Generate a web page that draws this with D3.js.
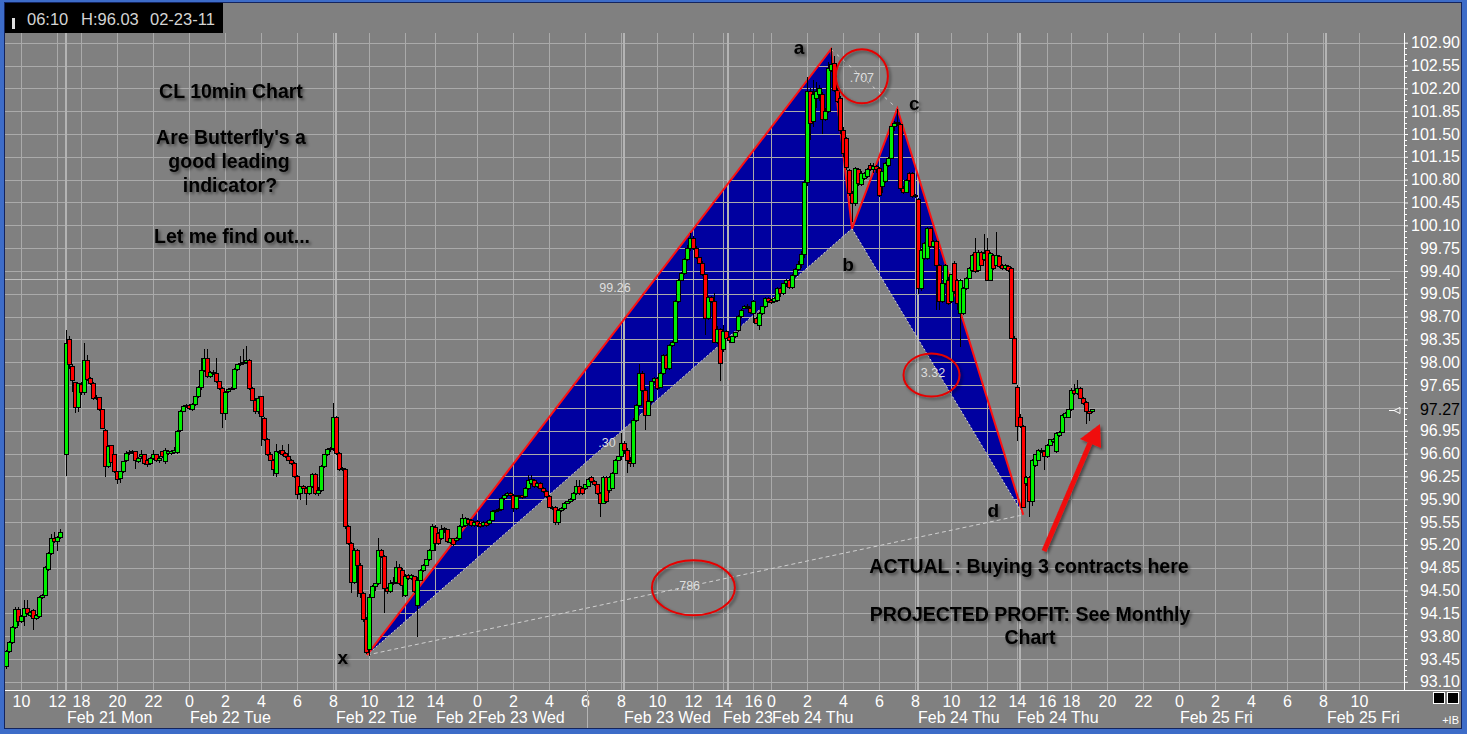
<!DOCTYPE html>
<html><head><meta charset="utf-8">
<script src="https://cdn.jsdelivr.net/npm/d3@7"></script>
<style>
html,body{margin:0;padding:0;background:#808080;overflow:hidden}
svg{display:block}
text{font-family:"Liberation Sans",Arial,sans-serif}
</style></head><body>
<svg id="c" width="1467" height="734"></svg>
<script>
// ---------- DATA ----------
// 10-minute OHLC bars [open, high, low, close], indexed by bar position
const segStart = [0, 20, 114, 205, 258];
const barsFeb21a = [
[93.34,93.58,93.30,93.56],[93.56,93.72,93.54,93.70],[93.70,93.95,93.68,93.93],[93.93,94.25,93.91,94.21],
[94.21,94.25,93.96,94.02],[94.03,94.12,94.00,94.10],[94.10,94.36,93.95,94.22],[94.22,94.36,94.13,94.15],
[94.12,94.19,94.10,94.17],[94.19,94.21,93.90,94.07],[94.07,94.14,94.05,94.12],[94.10,94.41,94.08,94.39],
[94.39,94.45,94.37,94.43],[94.43,94.87,94.41,94.85],[94.82,95.09,94.80,95.07],[95.07,95.37,95.05,95.30],
[95.30,95.40,95.23,95.25],[95.25,95.33,95.10,95.31],[95.31,95.45,95.29,95.39]];
const barsFeb21b = [
[96.59,98.49,96.25,98.28],[98.35,98.40,97.90,97.97],[97.94,97.98,97.55,97.72],[97.69,97.70,97.22,97.31],
[97.31,97.68,97.24,97.67],[97.66,97.70,97.50,97.53],[97.53,98.30,97.50,98.02],[98.02,98.11,97.72,97.74],
[97.75,97.77,97.65,97.68],[97.68,97.70,97.42,97.45],[97.44,97.50,97.42,97.46],[97.46,97.47,97.25,97.28],
[97.28,97.29,96.97,96.99],[96.95,96.97,96.24,96.40],[96.40,96.73,96.38,96.71],[96.72,96.73,96.45,96.46],
[96.59,96.60,96.30,96.32],[96.32,96.33,96.14,96.20],[96.22,96.33,96.15,96.32],[96.32,96.49,96.30,96.48],
[96.49,96.64,96.47,96.60],[96.60,96.65,96.58,96.62],[96.62,96.66,96.59,96.63],[96.63,96.64,96.37,96.50],
[96.48,96.55,96.46,96.53],[96.55,96.65,96.52,96.58],[96.58,96.60,96.42,96.44],[96.50,96.52,96.40,96.43],
[96.44,96.54,96.42,96.52],[96.52,96.65,96.50,96.58],[96.58,96.60,96.47,96.49],[96.49,96.56,96.45,96.53],
[96.63,96.64,96.53,96.55],[96.48,96.68,96.44,96.64],[96.60,96.66,96.58,96.63],[96.60,96.65,96.58,96.63],
[96.62,96.70,96.60,96.64],[96.62,96.96,96.60,96.94],[96.95,97.27,96.93,97.25],[97.25,97.34,97.23,97.32],
[97.33,97.36,97.30,97.34],[97.34,97.36,97.27,97.29],[97.28,97.37,97.26,97.35],[97.35,97.49,97.33,97.47],
[97.47,97.63,97.45,97.61],[97.61,98.06,97.58,97.88],[97.88,98.21,97.85,98.06],[98.06,98.20,97.76,97.78],
[97.78,97.87,97.76,97.85],[97.85,97.88,97.81,97.83],[97.83,98.06,97.68,97.70],[97.70,97.72,97.58,97.60],
[97.60,97.62,96.99,97.22],[97.22,97.56,97.12,97.54],[97.55,97.60,97.53,97.58],[97.59,97.62,97.57,97.60],
[97.60,97.91,97.58,97.89],[97.89,97.98,97.87,97.96],[97.96,98.09,97.94,97.98],[97.98,98.21,97.96,98.00],
[98.00,98.25,97.98,98.02],[98.02,98.05,97.57,97.59],[97.59,97.62,97.40,97.42],[97.42,97.45,97.20,97.24],
[97.24,97.48,97.20,97.45],[97.47,97.49,96.72,97.17],[97.14,97.16,96.80,96.82],[96.82,96.84,96.57,96.59],
[96.59,96.62,96.48,96.50],[96.50,96.52,96.25,96.35],[96.30,96.75,96.24,96.63],[96.63,96.66,96.60,96.63],
[96.64,96.73,96.57,96.58],[96.60,96.62,96.53,96.55],[96.56,96.75,96.48,96.50],[96.50,96.52,96.43,96.45],
[96.45,96.47,96.23,96.25],[96.25,96.27,95.91,95.97],[95.99,96.11,95.89,96.09],[96.10,96.12,96.05,96.07],
[96.07,96.09,95.81,95.98],[95.98,96.11,95.96,96.09],[96.09,96.30,96.07,96.28],[96.28,96.30,95.97,95.99],
[95.99,96.08,95.95,96.03],[96.03,96.42,96.01,96.40],[96.40,96.60,96.38,96.58],[96.58,96.68,96.56,96.66],
[96.66,96.70,96.62,96.68],[96.68,97.37,96.64,97.16],[97.15,97.17,96.58,96.60],[96.60,96.62,96.33,96.35],
[96.35,96.40,96.33,96.37],[96.36,96.38,95.45,95.48]];
const barsFeb22 = [
[95.48,95.50,95.20,95.22],[95.22,95.25,94.46,94.63],[94.63,95.15,94.60,95.12],[95.12,95.14,94.40,94.89],
[94.89,94.92,94.38,94.45],[94.45,94.48,94.02,94.05],[94.05,94.10,93.52,93.55],[93.60,94.45,93.50,94.40],
[94.40,94.58,94.38,94.56],[94.56,94.62,94.50,94.60],[94.60,95.30,94.58,95.11],[95.11,95.14,95.00,95.02],
[95.02,95.04,94.15,94.53],[94.53,94.56,94.45,94.48],[94.48,94.66,94.46,94.61],[94.61,94.70,94.59,94.63],
[94.63,94.95,94.60,94.86],[94.86,94.90,94.58,94.61],[94.81,94.84,94.40,94.58],[94.43,94.75,94.40,94.71],
[94.73,94.76,94.66,94.68],[94.68,94.76,94.66,94.73],[94.71,94.73,94.46,94.48],[94.27,94.70,93.79,94.66],
[94.66,94.83,94.64,94.81],[94.81,94.91,94.79,94.89],[94.89,94.99,94.87,94.97],[94.97,95.14,94.95,95.12],
[95.12,95.52,95.10,95.48],[95.46,95.50,95.10,95.22],[95.37,95.40,95.20,95.22],[95.30,95.50,95.28,95.43],
[95.43,95.47,95.38,95.45],[95.43,95.45,95.23,95.25],[95.24,95.31,95.22,95.29],[95.29,95.31,95.18,95.20],
[95.27,95.32,95.25,95.30],[95.30,95.50,95.28,95.48],[95.48,95.68,95.46,95.60],[95.50,95.62,95.48,95.60],
[95.59,95.61,95.50,95.52],[95.58,95.60,95.48,95.50],[95.50,95.57,95.48,95.55],[95.56,95.58,95.48,95.50],
[95.52,95.54,95.46,95.48],[95.50,95.57,95.48,95.55],[95.54,95.56,95.48,95.50],[95.52,95.60,95.50,95.58],
[95.58,95.73,95.56,95.71],[95.71,95.74,95.69,95.72],[95.72,95.76,95.70,95.74],[95.74,95.93,95.72,95.91],
[95.91,95.98,95.89,95.96],[95.96,96.01,95.94,95.99],[95.99,96.01,95.94,95.96],[95.96,95.98,95.70,95.76],
[95.76,95.96,95.74,95.94],[95.94,95.97,95.92,95.95],[95.95,95.97,95.90,95.92],[95.94,96.08,95.92,96.06],
[96.06,96.27,96.04,96.19],[96.14,96.27,96.12,96.20],[96.19,96.21,96.07,96.09],[96.09,96.16,96.07,96.14],
[96.14,96.16,96.05,96.07],[96.07,96.09,96.00,96.02],[96.02,96.04,95.92,95.94],[95.94,95.96,95.76,95.78],
[95.78,95.80,95.74,95.76],[95.78,95.80,95.50,95.55],[95.55,95.75,95.50,95.73],[95.73,95.78,95.71,95.76],
[95.76,95.86,95.74,95.84],[95.84,95.88,95.82,95.86],[95.86,95.92,95.84,95.90],[95.90,96.01,95.88,95.99],
[95.99,96.20,95.97,96.09],[96.09,96.20,95.97,95.99],[96.06,96.08,95.97,95.99],[96.06,96.14,96.04,96.12],
[96.10,96.22,96.08,96.20],[96.23,96.25,96.15,96.17],[96.17,96.19,96.10,96.12],[96.12,96.14,95.97,95.99],
[95.99,96.01,95.63,95.84],[95.84,96.26,95.82,96.24],[96.23,96.25,95.84,95.86],[96.04,96.26,96.00,96.24],
[96.07,96.32,96.05,96.30],[96.30,96.52,96.28,96.50],[96.50,96.57,96.48,96.55]];
const barsFeb23 = [
[96.55,96.91,96.50,96.76],[96.76,96.80,96.60,96.65],[96.65,96.68,96.30,96.50],[96.48,96.55,96.40,96.45],
[96.45,97.15,96.40,97.11],[97.11,97.36,97.09,97.34],[97.34,97.98,97.32,97.83],[97.83,97.86,97.55,97.57],
[97.57,97.60,96.96,97.19],[97.19,97.42,97.17,97.40],[97.40,97.72,97.38,97.70],[97.70,97.78,97.68,97.75],
[97.75,97.77,97.58,97.60],[97.62,97.85,97.60,97.83],[97.83,98.13,97.81,98.11],[98.11,98.13,97.88,97.90],
[97.90,98.28,97.88,98.26],[98.26,98.33,98.24,98.31],[98.31,98.95,98.29,98.93],[98.93,99.28,98.91,99.26],
[99.26,99.38,99.24,99.36],[99.36,99.60,99.34,99.57],[99.57,99.80,99.55,99.75],[99.75,99.98,99.70,99.90],
[99.90,99.93,99.72,99.75],[99.75,99.78,99.58,99.60],[99.60,99.62,99.50,99.52],[99.52,99.55,99.32,99.34],
[99.34,99.36,98.42,98.67],[98.67,99.02,98.65,99.00],[99.00,99.02,98.91,98.93],[98.93,99.06,98.29,98.31],
[98.31,98.55,98.28,98.50],[98.50,98.52,97.72,97.98],[98.19,98.57,98.15,98.47],[98.47,98.50,98.35,98.37],
[98.38,98.40,98.30,98.34],[98.31,98.41,98.29,98.39],[98.39,98.47,98.37,98.45],[98.48,98.72,98.46,98.70],
[98.70,98.82,98.68,98.80],[98.83,98.88,98.81,98.86],[98.86,98.90,98.82,98.84],[98.83,98.85,98.74,98.76],
[98.75,98.95,98.60,98.93],[98.67,98.70,98.58,98.60],[98.57,98.77,98.50,98.75],[98.75,98.87,98.73,98.85],
[98.85,99.00,98.83,98.98],[98.98,99.00,98.91,98.93],[98.95,98.97,98.89,98.91],[98.93,99.00,98.91,98.98],
[98.95,99.15,98.93,99.13]];
const barsFeb24 = [
[99.13,99.16,99.00,99.05],[99.05,99.22,99.03,99.20],[99.20,99.28,99.15,99.25],[99.25,99.27,99.12,99.15],
[99.15,99.35,99.13,99.33],[99.33,99.45,99.30,99.42],[99.42,99.55,99.40,99.50],[99.50,99.70,99.45,99.65],
[99.65,100.80,99.60,100.75],[100.75,102.38,100.70,102.15],[102.15,102.20,101.41,101.66],[101.69,102.33,101.60,102.10],
[102.05,102.30,101.90,102.15],[102.10,102.25,102.00,102.20],[102.10,102.15,101.50,101.72],[101.72,101.90,101.70,101.84],
[101.84,102.60,101.82,102.51],[102.48,102.82,102.45,102.56],[102.58,102.70,102.15,102.17],[102.17,102.20,101.98,102.00],
[102.05,102.08,101.50,101.56],[101.56,101.60,101.15,101.20],[101.43,101.46,100.95,100.99],[100.94,100.97,100.55,100.59],
[100.59,100.62,100.15,100.43],[100.43,101.00,100.40,100.97],[100.95,100.98,100.70,100.74],[100.72,100.93,100.70,100.90],
[100.82,100.92,100.80,100.90],[100.85,100.98,100.83,100.95],[101.02,101.05,100.93,100.95],[100.95,101.05,100.90,101.00],
[101.00,101.03,100.90,100.95],[100.97,101.00,100.54,100.56],[100.69,100.94,100.60,100.92],[100.77,101.07,100.75,101.05],
[101.02,101.14,101.00,101.12],[101.13,101.63,101.11,101.61],[101.61,101.70,101.55,101.66],[101.66,101.89,101.62,101.68],
[101.64,101.67,100.62,100.67],[100.67,100.70,100.58,100.61],[100.61,100.81,100.59,100.79],[100.89,100.91,100.77,100.79],
[100.89,100.92,100.52,100.54],[100.54,100.58,100.52,100.56],[100.49,100.52,99.05,99.13],[99.13,99.74,99.10,99.72],
[99.59,99.84,99.57,99.82],[99.59,100.07,99.57,100.05],[100.05,100.08,99.75,99.77],[99.77,99.87,99.75,99.85],
[99.85,99.87,98.80,99.49],[99.49,99.51,98.80,98.93],[98.93,99.22,98.91,99.20],[99.20,99.51,99.18,99.49],
[99.26,99.30,98.88,98.90],[98.93,99.36,98.91,99.34],[99.52,99.55,99.05,99.08],[99.26,99.28,98.80,98.90],
[98.75,99.28,98.24,99.26],[98.75,99.15,98.73,99.13],[99.13,99.31,99.11,99.29],[99.29,99.46,99.27,99.44],
[99.41,99.66,99.39,99.64],[99.69,99.90,99.37,99.39],[99.41,99.72,99.39,99.69],[99.68,99.70,99.47,99.49],
[99.57,99.96,99.55,99.67],[99.72,99.90,99.24,99.26],[99.26,99.69,99.24,99.67],[99.64,99.66,99.42,99.44],
[99.49,100.00,99.47,99.64],[99.62,99.65,99.45,99.47],[99.49,99.51,99.42,99.44],[99.44,99.50,99.42,99.48],
[99.47,99.49,99.39,99.41],[99.44,99.46,98.35,98.37],[98.37,98.40,97.66,97.68],[97.62,97.65,96.80,97.01],
[97.16,97.20,96.99,97.01],[97.01,97.04,95.76,95.78],[96.14,96.26,96.10,96.24],[96.24,96.26,95.63,95.86],
[95.86,96.52,95.80,96.50],[96.42,96.60,96.40,96.58],[96.50,96.67,96.48,96.65],[96.63,96.68,96.61,96.65],
[96.63,96.65,96.35,96.55],[96.55,96.75,96.53,96.73],[96.73,96.83,96.71,96.81],[96.78,96.84,96.76,96.82],
[96.63,96.93,96.61,96.91],[96.88,96.95,96.86,96.93],[96.93,97.21,96.91,97.19],[97.16,97.23,97.14,97.21],
[97.16,97.29,97.14,97.27],[97.27,97.60,97.25,97.57],[97.57,97.67,97.50,97.52],[97.52,97.73,97.50,97.60],
[97.60,97.62,97.43,97.45],[97.45,97.47,97.35,97.37],[97.39,97.41,97.05,97.24],[97.24,97.26,97.10,97.22],
[97.24,97.29,97.22,97.27]];
const segments = [barsFeb21a, barsFeb21b, barsFeb22, barsFeb23, barsFeb24];

// X axis: bar index of each hour tick and its label
const tickIdx = [5,17,25,37,49,61,73,85,97,109,121,133,143,157,169,181,193,205,217,229,239,249,255,267,279,291,303,315,327,337,347,355,367,379,391,403,415,427,439,451];
const tickLbl = ["10","12","18","20","22","0","2","4","6","8","10","12","14","0","2","4","6","8","10","12","14","16","0","2","4","6","8","10","12","14","16","18","20","22","0","2","4","6","8","10"];
const sepIdx = [19.7,109.7,205.7,240.3,303.7,337.7,439.7];
// date labels as shown (two are cut off by the following label)
const dateIdx = [20.3,61.3,110,143.3,157.3,206,239,255.3,304,337,391.3,440.3];
const dateLbl = ["Feb 21 Mon","Feb 22 Tue","Feb 22 Tue","Feb 2","Feb 23 Wed","Feb 23 Wed","Feb 23","Feb 24 Thu","Feb 24 Thu","Feb 24 Thu","Feb 25 Fri","Feb 25 Fri"];
const lastPrice = 97.27;
const crossPrice = 99.27;

// Butterfly pattern pivots
const patName = ["x","a","b","c","d"];
const patIdx = [120.3,275,282,297.1,339.1];
const patPx  = [93.51,102.80,100.05,101.89,95.66];
// Fibonacci ratio labels
const ratioLbl = ["99.26",".30",".707","3.32",".786"];
const ratioIdx = [203,200.3,285.3,309,227.3];
const ratioPx  = [99.15,96.77,102.37,97.85,94.58];

// ---------- DRAW ----------
const svg = d3.select('#c');
const PL=5, PR=1404, PT=33, PB=690;
const x = d3.scaleLinear().domain([0,466]).range([6,1404]);
const y = d3.scaleLinear().domain([93.10,102.90]).range([681.8,42.7]);

const defs = svg.append('defs');
const f = defs.append('filter').attr('id','sh').attr('x','-30%').attr('y','-30%').attr('width','160%').attr('height','160%');
f.append('feDropShadow').attr('dx',2).attr('dy',2).attr('stdDeviation',1.6).attr('flood-color','#000').attr('flood-opacity',0.45);
defs.append('clipPath').attr('id','plot').append('rect').attr('x',PL).attr('y',PT).attr('width',PR-PL).attr('height',PB-PT);

// frame
svg.append('rect').attr('width',1467).attr('height',734).attr('fill','#3d6cc8');
svg.append('rect').attr('x',4.5).attr('y',2.5).attr('width',1457).attr('height',726).attr('fill','#808080').attr('stroke','#13245e').attr('stroke-width',1);
// header
svg.append('rect').attr('x',5).attr('y',3).attr('width',218).attr('height',30).attr('fill','#000');
svg.append('rect').attr('x',12).attr('y',18).attr('width',3).attr('height',11).attr('fill','#e0e0e0');
[["06:10",27],["H:96.03",81],["02-23-11",150]].forEach(([t,xx])=>{
  svg.append('text').attr('x',xx).attr('y',24.5).attr('fill','#d4d4d4').attr('font-size',16.5).text(t);
});

const plot = svg.append('g').attr('clip-path','url(#plot)');
const P = i=>[x(patIdx[i]), y(patPx[i])];

// pattern fills
plot.append('path').attr('d', d3.line()([P(0),P(1),P(2)])+'Z').attr('fill','#0000a0');
plot.append('path').attr('d', d3.line()([P(2),P(3),P(4)])+'Z').attr('fill','#0000a0');

// gridlines
const yTicks = d3.range(29).map(k=>+(93.10+0.35*k).toFixed(2));
plot.append('g').selectAll('line').data(yTicks).join('line')
  .attr('x1',PL).attr('x2',PR).attr('y1',d=>Math.round(y(d))+0.5).attr('y2',d=>Math.round(y(d))+0.5)
  .attr('stroke','#aaaaaa').attr('stroke-width',1);
plot.append('g').selectAll('line').data(tickIdx).join('line')
  .attr('y1',PT).attr('y2',PB).attr('x1',d=>Math.round(x(d))+0.5).attr('x2',d=>Math.round(x(d))+0.5)
  .attr('stroke','#aaaaaa').attr('stroke-width',1);
plot.append('g').selectAll('line').data(sepIdx).join('line')
  .attr('y1',PT).attr('y2',PB).attr('x1',d=>Math.round(x(d))+1).attr('x2',d=>Math.round(x(d))+1)
  .attr('stroke','#b4b4b4').attr('stroke-width',2);

// crosshair price line
const lastI = segStart[4]+barsFeb24.length-1;
plot.append('line').attr('x1',PL).attr('x2',1390).attr('y1',Math.round(y(crossPrice))+0.5).attr('y2',Math.round(y(crossPrice))+0.5)
  .attr('stroke','#bdbdbd');

// lower pattern edges (light dotted)
plot.append('path').attr('d', d3.line()([P(0),P(2)])).attr('stroke','#d8d8d8').attr('stroke-width',1).attr('stroke-dasharray','2,2').attr('fill','none');
plot.append('path').attr('d', d3.line()([P(2),P(4)])).attr('stroke','#d8d8d8').attr('stroke-width',1).attr('stroke-dasharray','2,2').attr('fill','none');
// XD and AC projection lines
plot.append('path').attr('d', d3.line()([P(0),P(4)])).attr('stroke','#d0d0d0').attr('stroke-width',1).attr('stroke-dasharray','4,3').attr('fill','none');
plot.append('path').attr('d', d3.line()([P(1),P(3)])).attr('stroke','#d0d0d0').attr('stroke-width',1).attr('stroke-dasharray','3,5').attr('fill','none');
// red legs
plot.append('path').attr('d', d3.line()([P(0),P(1),P(2)])).attr('stroke','#ff1010').attr('stroke-width',2).attr('fill','none');
plot.append('path').attr('d', d3.line()([P(2),P(3),P(4)])).attr('stroke','#ff1010').attr('stroke-width',2).attr('fill','none');

// candles
const bars = segments.flatMap((s,k)=>s.map((b,j)=>({i:segStart[k]+j,o:b[0],h:b[1],l:b[2],c:b[3]})));
const cg = plot.append('g').attr('shape-rendering','crispEdges');
const cs = cg.selectAll('g').data(bars).join('g');
cs.append('line').attr('x1',d=>x(d.i)+0.5).attr('x2',d=>x(d.i)+0.5)
  .attr('y1',d=>y(d.h)).attr('y2',d=>y(d.l)).attr('stroke','#000').attr('stroke-width',1);
cs.append('rect').attr('x',d=>x(d.i)-1.5).attr('width',4)
  .attr('y',d=>y(Math.max(d.o,d.c))).attr('height',d=>Math.max(1,Math.abs(y(d.o)-y(d.c))))
  .attr('fill',d=>d.c>=d.o?'#00f000':'#ff0000').attr('stroke','#000').attr('stroke-width',1);

// ratio labels + ellipses
const rl = svg.append('g');
ratioLbl.forEach((t,k)=>{
  rl.append('text').attr('x',x(ratioIdx[k])).attr('y',y(ratioPx[k])+4.5).attr('text-anchor','middle')
    .attr('fill','#dedede').attr('font-size',12.5).text(t);
});
const ell = [[2,26,27,0,-1],[3,28,21.5,-1.5,3],[4,41.5,27.5,5.5,2.5]];
ell.forEach(([k,rx,ry,dx,dy])=>{
  rl.append('ellipse').attr('cx',x(ratioIdx[k])+dx).attr('cy',y(ratioPx[k])+dy).attr('rx',rx).attr('ry',ry)
    .attr('fill','none').attr('stroke','#e60000').attr('stroke-width',2).attr('filter','url(#sh)');
});

// pivot letters
const off = [[-24,3],[-32,-1],[-4,36],[17,-5],[-30,-4]];
patName.forEach((t,k)=>{
  svg.append('text').attr('x',P(k)[0]+off[k][0]).attr('y',P(k)[1]+off[k][1]+6).attr('text-anchor','middle')
    .attr('font-size',19).attr('font-weight','bold').attr('fill','#000').attr('filter','url(#sh)').text(t);
});

// annotation texts
const notes = [["CL 10min Chart",231,98],["Are Butterfly's a",231,144],["good leading",229,168],["indicator?",230,192],["Let me find out...",232,243],
  ["ACTUAL : Buying 3 contracts here",1029,573],["PROJECTED PROFIT: See Monthly",1030,621],["Chart",1030,644]];
notes.forEach(([t,xx,yy])=>{
  svg.append('text').attr('x',xx).attr('y',yy).attr('text-anchor','middle').attr('font-size',19.5)
    .attr('font-weight','bold').attr('fill','#000').attr('filter','url(#sh)').text(t);
});

// arrow
const ag = svg.append('g').attr('filter','url(#sh)');
ag.append('line').attr('x1',1044).attr('y1',551).attr('x2',1090).attr('y2',443).attr('stroke','#f01010').attr('stroke-width',5);
ag.append('path').attr('d','M1100,424 L1080,439 L1101,448 Z').attr('fill','#f01010');

// Y axis
const yAxisG = svg.append('g').attr('transform','translate(1404,0)')
  .call(d3.axisRight(y).tickValues(yTicks).tickSize(4).tickFormat(d3.format('.2f')));
yAxisG.select('.domain').remove();
yAxisG.selectAll('.tick line').attr('stroke','#fff');
yAxisG.selectAll('.tick text').attr('x',56).attr('text-anchor','end').attr('fill','#fff')
  .attr('font-size',16).attr('font-family','Liberation Sans, Arial, sans-serif')
  .filter(d=>Math.abs(d-97.30)<0.001).remove();
const minor = d3.range(28*4).map(k=>93.10+0.0875*k).filter((d,k)=>k%4!==0);
svg.append('g').selectAll('line').data(minor).join('line')
  .attr('x1',1404).attr('x2',1407).attr('y1',d=>Math.round(y(d))+0.5).attr('y2',d=>Math.round(y(d))+0.5).attr('stroke','#fff');
svg.append('line').attr('x1',1404.5).attr('x2',1404.5).attr('y1',33).attr('y2',690).attr('stroke','#fff');
// current price marker
svg.append('text').attr('x',1460).attr('y',y(lastPrice)+5.5).attr('text-anchor','end').attr('font-size',16).attr('fill','#000').text(lastPrice.toFixed(2));
svg.append('path').attr('d',`M1389,${Math.round(y(lastPrice))+0.5} H1394 M1394,${Math.round(y(lastPrice))+0.5} L1400,${Math.round(y(lastPrice))-2.5} V${Math.round(y(lastPrice))+3.5} Z`)
  .attr('stroke','#fff').attr('fill','none');

// X axis
svg.append('line').attr('x1',5).attr('x2',1461).attr('y1',690.5).attr('y2',690.5).attr('stroke','#fff');
const xAxisG = svg.append('g').attr('transform','translate(0,690)')
  .call(d3.axisBottom(x).tickValues(tickIdx).tickSize(0).tickPadding(0).tickFormat((d,k)=>tickLbl[k]));
xAxisG.select('.domain').remove();
xAxisG.selectAll('.tick text').attr('y',17).attr('dy',0).attr('fill','#fff').attr('font-size',16)
  .attr('font-family','Liberation Sans, Arial, sans-serif');
svg.append('line').attr('x1',587.5).attr('x2',587.5).attr('y1',690).attr('y2',728).attr('stroke','#b4b4b4');
// date labels
dateLbl.forEach((t,k)=>{
  svg.append('text').attr('x',x(dateIdx[k])).attr('y',723).attr('fill','#fff').attr('font-size',16).text(t);
});
// corner boxes
svg.append('rect').attr('x',1433.5).attr('y',692.5).attr('width',11).attr('height',11).attr('fill','#000').attr('stroke','#fff');
svg.append('rect').attr('x',1447.5).attr('y',692.5).attr('width',11).attr('height',11).attr('fill','#000').attr('stroke','#fff');
svg.append('text').attr('x',1459).attr('y',724).attr('text-anchor','end').attr('font-size',11).attr('fill','#fff').text('+IB');
</script>
</body></html>
